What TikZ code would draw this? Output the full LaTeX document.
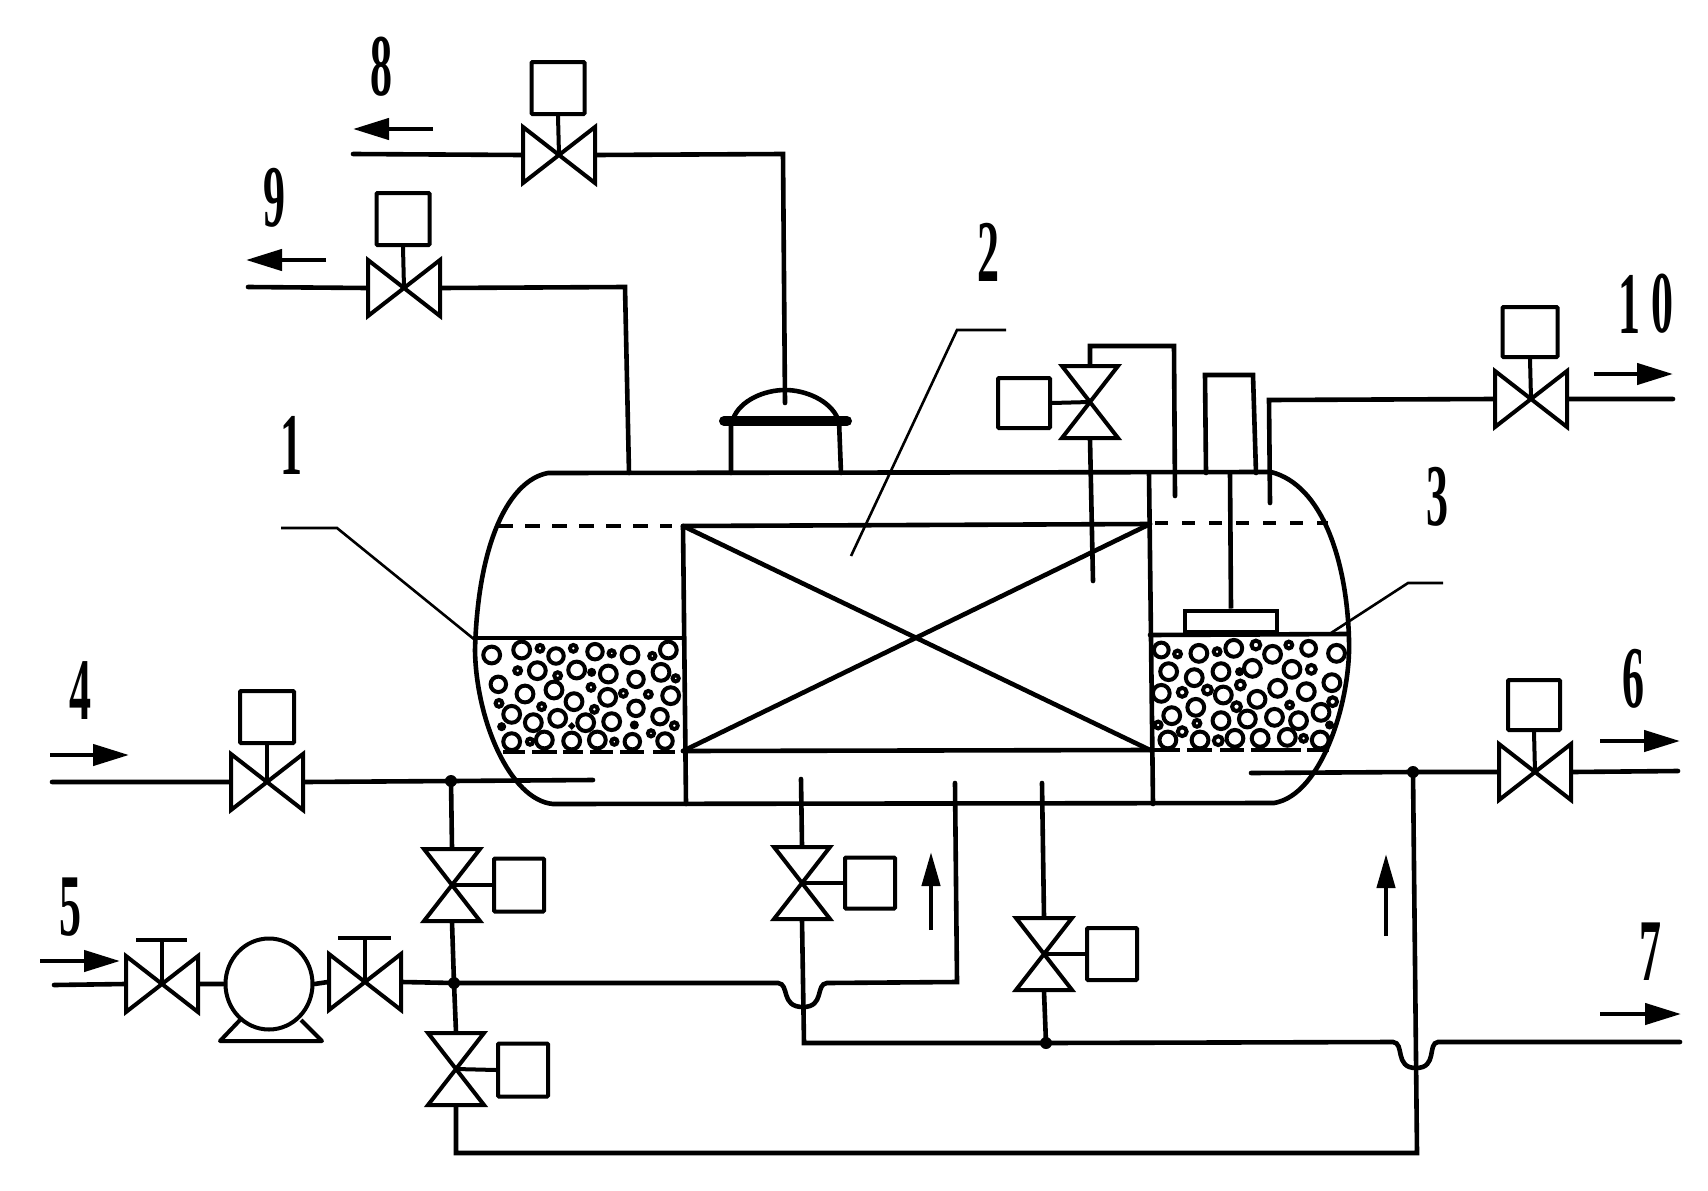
\documentclass[tikz,border=0pt]{standalone}
\usepackage{fontspec}
\setmainfont{Liberation Serif}
\usetikzlibrary{arrows.meta,shapes.geometric}
\tikzset{
  pipe/.style={line width=4.6pt,line join=miter,line cap=round},
  valveline/.style={line width=4pt,line join=miter},
  actbox/.style={draw,line width=4pt,inner sep=0pt,rounded corners=1pt},
  leader/.style={line width=2.6pt},
  bubble/.style={line width=4pt},
  flowline/.style={line width=4.4pt,-{Triangle[length=36pt,width=21pt]}},
  uparrow/.style={line width=4.4pt,-{Triangle[length=34pt,width=18pt]}},
  tag/.style={font=\bfseries\fontsize{88}{88}\selectfont,xscale=.5,inner sep=0pt},
  jdot/.style={circle,fill,inner sep=0pt,minimum size=12pt}
}
\newcommand\hvalve[3]{\begin{scope}[shift={(#2,#3)}]
  \coordinate (#1) at (0,0);\coordinate (#1-w) at (-37,0);\coordinate (#1-e) at (37,0);
  \draw[valveline] (-36,-28) -- (36,28) -- (36,-28) -- (-36,28) -- cycle;
\end{scope}}
\newcommand\vvalve[3]{\begin{scope}[shift={(#2,#3)}]
  \coordinate (#1) at (0,0);\coordinate (#1-n) at (0,-37);\coordinate (#1-s) at (0,37);
  \coordinate (#1-e) at (28,0);
  \draw[valveline] (-28,-36) -- (28,-36) -- (-28,36) -- (28,36) -- cycle;
\end{scope}}
\newcommand\flow[4][flowline]{\coordinate (#2a) at (#3);\coordinate (#2b) at (#4);\draw[#1] (#2a) -- (#2b);}
\begin{document}
\begin{tikzpicture}[x=1pt,y=-1pt]
\useasboundingbox (0,0) rectangle (1708,1191);
% vessel
\draw[pipe] (548,473) -- (1271,472)
  .. controls (1322,485) and (1347,560) .. (1349,640)
  .. controls (1351,700) and (1322,795) .. (1274,803)
  -- (553,804)
  .. controls (510,800) and (476,720) .. (475,650)
  .. controls (478,540) and (510,480) .. (548,473) -- cycle;
% level, dashed
\draw[pipe,line cap=butt,dash pattern=on 15pt off 12pt] (498,526) -- (672,526);
\draw[pipe,line cap=butt,dash pattern=on 13pt off 14pt] (1155,523) -- (1328,523);
% module
\draw[pipe] (683,526) -- (1150,524);
\draw[pipe] (683,751) -- (1150,750);
\draw[pipe] (683,526) -- (1150,750);
\draw[pipe] (683,751) -- (1150,524);
\draw[pipe] (683,526) -- (686,804);
\draw[pipe] (1149,473) -- (1153,804);
% packing left
\draw[pipe] (478,638) -- (683,638);
\draw[pipe,line cap=butt] (503,752) -- (525,752) (532,752) -- (557,752) (563,752) -- (583,752) (590,752) -- (613,752) (620,752) -- (644,752) (653,752) -- (675,752);
\foreach \X/\Y/\R in {155/645/30,245/630/30,300/625/15,348/648/28,400/625/15,465/635/28,515/640/14,570/645/30,637/648/14,685/630/30,
233/692/15,292/692/30,353/707/15,410/690/30,455/697/12,505/702/30,588/718/28,663/697/30,707/715/14,
175/733/28,255/762/30,342/750/30,453/742/15,402/785/30,503/772/30,550/760/15,625/763/15,692/767/30,
177/790/15,215/823/30,305/800/15,353/835/30,463/808/15,588/805/28,660/830/28,
185/860/12,280/848/30,437/848/30,515/845/30,583/855/12,703/857/15,395/858/8,
215/905/30,270/905/14,313/900/30,395/903/30,472/900/30,523/905/14,577/905/28,633/880/14,675/903/28}
  \draw[bubble] ({440+\X/3},{440+\Y/3}) circle [radius={\R/3-1.6}];
% packing right
\draw[pipe] (1150,635) -- (1347,634);
\draw[pipe,line cap=butt] (1154,750) -- (1180,750) (1187,750) -- (1212,750) (1220,750) -- (1244,750) (1251,750) -- (1301,750) (1307,750) -- (1329,750);
\foreach \X/\Y/\R in {158/960/9,200/972/5,255/970/10,302/965/5,345/955/10,402/945/6,445/973/10,487/945/5,538/955/9,610/970/10,
177/1025/10,243/1043/10,312/1025/10,393/1015/10,360/1025/4,495/1018/10,545/1018/6,
158/1090/10,212/1087/6,277/1080/6,318/1095/10,362/1065/6,405/1108/10,458/1075/10,532/1085/10,598/1058/10,
185/1157/10,247/1132/10,352/1130/6,489/1125/5,600/1115/6,570/1147/10,
150/1185/5,250/1180/5,312/1172/10,380/1167/10,450/1162/10,512/1172/10,592/1185/4,
175/1230/10,212/1205/6,258/1230/10,305/1232/6,348/1225/10,413/1225/10,483/1222/10,525/1225/5,568/1230/10}
  \draw[bubble] ({1100+\X/2.579},{330+\Y/3}) circle [radius={\R-1.6}];
% dome
\draw[pipe] (731,473) -- (731,421) (841,473) -- (839,421);
\draw[line width=10pt,line cap=round] (724,421) -- (847,421);
\draw[pipe] (733,419) .. controls (740,400) and (765,390) .. (785,390) .. controls (805,390) and (830,400) .. (838,419);
% tube on top
\draw[pipe,line join=miter] (1206,473) -- (1205,375) -- (1253,375) -- (1256,473);
% agitator
\coordinate (shafttop) at (1230,473);
\node[draw,line width=4pt,minimum width=92pt,minimum height=21pt,inner sep=0pt] (plate) at (1231,621) {};
\draw[pipe,line cap=butt] (shafttop) -- (plate.north);
% valves
\hvalve{v8}{559}{155}
\node[actbox,minimum width=53pt,minimum height=52pt] (a8) at (558,88) {};
\hvalve{v9}{404}{288}
\node[actbox,minimum width=53pt,minimum height=52pt] (a9) at (403,219) {};
\hvalve{v10}{1531}{399}
\node[actbox,minimum width=55pt,minimum height=50pt] (a10) at (1530,332) {};
\hvalve{v6}{1535}{772}
\node[actbox,minimum width=52pt,minimum height=50pt] (a6) at (1534,705) {};
\hvalve{v4}{267}{782}
\node[actbox,minimum width=54pt,minimum height=52pt] (a4) at (267,717) {};
\hvalve{vc}{162}{984}
\hvalve{vd}{365}{982}
\vvalve{vt}{1090}{402}
\node[actbox,minimum width=52pt,minimum height=50pt] (at) at (1024,403) {};
\vvalve{va}{452}{885}
\node[actbox,minimum width=50pt,minimum height=53pt] (aa) at (519,885) {};
\vvalve{vb}{456}{1069}
\node[actbox,minimum width=50pt,minimum height=53pt] (ab) at (523,1070) {};
\vvalve{ve}{802}{883}
\node[actbox,minimum width=50pt,minimum height=51pt] (ae) at (870,883) {};
\vvalve{vf}{1044}{954}
\node[actbox,minimum width=50pt,minimum height=52pt] (af) at (1112,954) {};
% valve stems
\foreach \v/\a/\s in {v8/a8/south,v9/a9/south,v10/a10/south,v6/a6/south,v4/a4/south}
  \draw[valveline] (\v) -- (\a.\s);
\foreach \v/\a/\s in {vt/at/east,va/aa/west,vb/ab/west,ve/ae/west,vf/af/west}
  \draw[valveline] (\v) -- (\a.\s);
% hand wheels
\coordinate (hc) at (162,940);\coordinate (hcl) at (136,940);\coordinate (hcr) at (187,940);
\coordinate (hd) at (365,938);\coordinate (hdl) at (338,938);\coordinate (hdr) at (391,938);
\draw[valveline] (vc) -- (hc) (hcl) -- (hcr);
\draw[valveline] (vd) -- (hd) (hdl) -- (hdr);
% pump
\node[draw,ellipse,line width=4pt,minimum width=87pt,minimum height=91pt,inner sep=0pt] (pump) at (269,984) {};
\draw[valveline,line join=round] (240,1020) -- (220,1041) -- (322,1041) -- (301,1020);
% junctions
\coordinate (j1) at (451,781);
\coordinate (j2) at (454,983);
\coordinate (j3) at (1413,772);
\coordinate (j4) at (1046,1043);
\foreach \j in {j1,j2,j3,j4} \node[jdot] at (\j) {};
% pipes
\coordinate (in8) at (353,154);\coordinate (c8) at (783,154);\coordinate (e8) at (785,403);
\draw[pipe] (in8) -- (v8-w) (v8-e) -- (c8) -- (e8);
\coordinate (in9) at (248,287);\coordinate (c9) at (625,287);\coordinate (e9) at (629,473);
\draw[pipe] (in9) -- (v9-w) (v9-e) -- (c9) -- (e9);
\coordinate (o10) at (1673,399);\coordinate (c10) at (1269,400);\coordinate (e10) at (1270,503);
\draw[pipe] (o10) -- (v10-e) (v10-w) -- (c10) -- (e10);
\coordinate (o6) at (1678,771);\coordinate (e6) at (1251,773);
\draw[pipe] (o6) -- (v6-e) (v6-w) -- (j3) -- (e6);
\coordinate (in4) at (52,782);\coordinate (e4) at (593,780);
\draw[pipe] (in4) -- (v4-w) (v4-e) -- (j1) -- (e4);
\draw[pipe] (j1) -- (va-n) (va-s) -- (j2) -- (vb-n);
\coordinate (in5) at (54,985);
\draw[pipe] (in5) -- (vc-w) (vc-e) -- (pump.west) (pump.east) -- (vd-w);
% pipe from pump with hump
\coordinate (h1a) at (778,983);\coordinate (h1b) at (827,983);
\coordinate (c5) at (957,982);\coordinate (e5) at (955,783);
\draw[pipe] (vd-e) -- (j2) -- (h1a) .. controls (790,984) and (780,1007) .. (803,1007)
  .. controls (825,1007) and (815,984) .. (h1b) -- (c5) -- (e5);
% valve e, f line
\coordinate (te) at (801,779);\coordinate (ce) at (804,1043);\coordinate (tf) at (1042,783);
\draw[pipe] (te) -- (ve-n) (ve-s) -- (ce) -- (j4) (tf) -- (vf-n) (vf-s) -- (j4);
\coordinate (h2a) at (1393,1042);\coordinate (h2b) at (1438,1042);\coordinate (o7) at (1680,1042);
\draw[pipe] (j4) -- (h2a) .. controls (1405,1043) and (1394,1068) .. (1416,1068)
  .. controls (1438,1068) and (1427,1043) .. (h2b) -- (o7);
% bottom return
\coordinate (cb) at (456,1153);\coordinate (cc) at (1417,1153);
\draw[pipe] (vb-s) -- (cb) -- (cc) -- (j3);
% top left valve
\coordinate (ct1) at (1090,346);\coordinate (ct2) at (1174,346);\coordinate (et) at (1175,496);\coordinate (bt) at (1093,581);
\draw[pipe] (vt-n) -- (ct1) -- (ct2) -- (et) (vt-s) -- (bt);
% leaders
\coordinate (l1a) at (281,528);\coordinate (l1b) at (337,528);\coordinate (l1c) at (475,640);
\draw[leader] (l1a) -- (l1b) -- (l1c);
\coordinate (l2a) at (1006,330);\coordinate (l2b) at (957,330);\coordinate (l2c) at (851,556);
\draw[leader] (l2a) -- (l2b) -- (l2c);
\coordinate (l3a) at (1443,583);\coordinate (l3b) at (1408,583);\coordinate (l3c) at (1331,633);
\draw[leader] (l3a) -- (l3b) -- (l3c);
% flow arrows
\flow{f8}{433,129}{353,129}
\flow{f9}{326,260}{246,260}
\flow{f10}{1594,374}{1673,374}
\flow{f6}{1600,741}{1680,741}
\flow{f7}{1600,1014}{1681,1014}
\flow{f4}{50,755}{129,755}
\flow{f5}{40,961}{120,961}
\flow[uparrow]{fu}{931,930}{931,852}
\flow[uparrow]{fv}{1386,936}{1386,854}
% labels
\node[tag] (t1) at (291,445) {1};
\node[tag] (t2) at (988,252) {2};
\node[tag] (t3) at (1437,497) {3};
\node[tag] (t4) at (80,691) {4};
\node[tag] (t5) at (70,907) {5};
\node[tag] (t6) at (1633,679) {6};
\node[tag] (t7) at (1650,952) {7};
\node[tag] (t8) at (381,67) {8};
\node[tag] (t9) at (274,198) {9};
\node[tag] (t10a) at (1629,304) {1};
\node[tag] (t10b) at (1662,304) {0};
\end{tikzpicture}
\end{document}
